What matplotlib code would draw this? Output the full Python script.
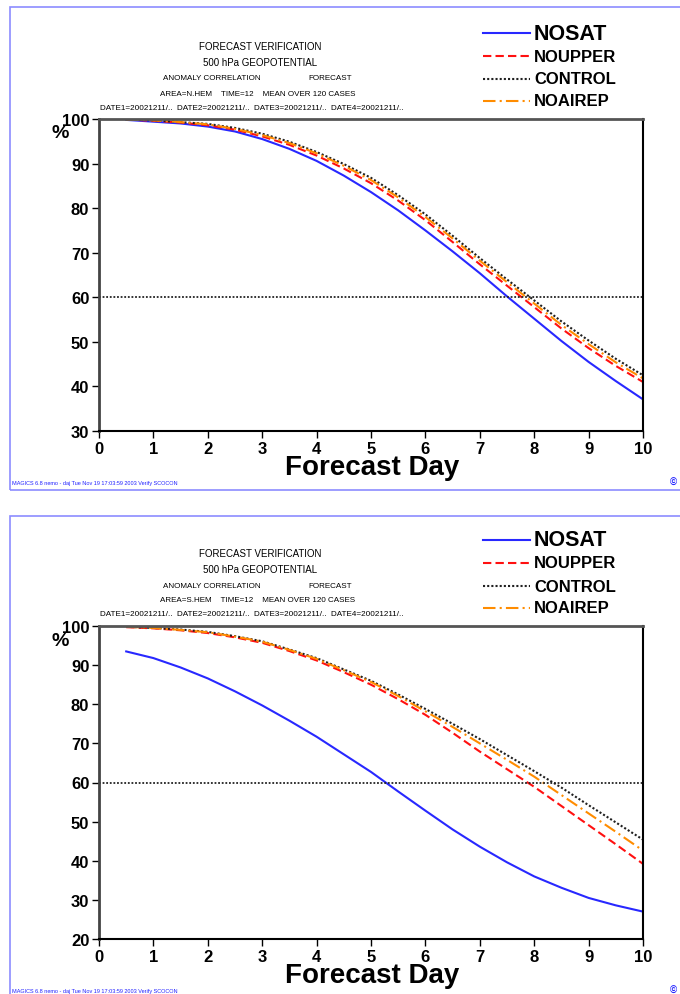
import matplotlib
matplotlib.use("Agg")
import matplotlib.pyplot as plt
from matplotlib.lines import Line2D
from matplotlib.patches import Rectangle

plt.rcParams['font.family'] = ['Liberation Sans', 'DejaVu Sans']

# forecast day (every 12 hours)
days = [0.5, 1, 1.5, 2, 2.5, 3, 3.5, 4, 4.5, 5, 5.5, 6, 6.5, 7, 7.5, 8, 8.5, 9, 9.5, 10]

# northern hemisphere anomaly correlation (%)
nosat_n = [99.8, 99.4, 99.0, 98.3, 97.2, 95.5, 93.3, 90.6, 87.3, 83.6,
           79.5, 75.0, 70.3, 65.4, 60.2, 55.2, 50.2, 45.5, 41.2, 37.1]
noupper_n = [99.9, 99.6, 99.2, 98.6, 97.6, 96.1, 94.2, 91.8, 88.9, 85.6,
             81.7, 77.3, 72.4, 67.4, 62.6, 57.8, 53.0, 48.6, 44.6, 41.0]
control_n = [99.9, 99.7, 99.3, 98.9, 98.0, 96.7, 94.9, 92.6, 89.9, 86.8,
             82.9, 78.6, 73.8, 68.8, 64.0, 59.3, 54.6, 50.3, 46.2, 42.5]
noairep_n = [99.9, 99.7, 99.3, 98.8, 97.8, 96.4, 94.6, 92.3, 89.5, 86.3,
             82.4, 78.0, 73.2, 68.2, 63.4, 58.6, 53.8, 49.5, 45.4, 41.8]

# southern hemisphere anomaly correlation (%)
nosat_s = [93.5, 91.8, 89.4, 86.6, 83.3, 79.7, 75.8, 71.7, 67.2, 62.7,
           57.7, 52.8, 48.0, 43.6, 39.6, 36.0, 33.1, 30.5, 28.6, 27.0]
noupper_s = [99.7, 99.4, 98.9, 98.2, 97.1, 95.7, 93.6, 91.2, 88.2, 85.0,
             81.3, 77.3, 72.7, 67.9, 63.4, 58.9, 54.0, 49.1, 44.2, 39.2]
control_s = [99.8, 99.5, 99.1, 98.5, 97.4, 96.1, 94.0, 91.8, 88.9, 86.0,
             82.5, 78.8, 75.0, 71.1, 67.0, 62.9, 58.7, 54.2, 49.8, 45.4]
noairep_s = [99.8, 99.5, 99.0, 98.4, 97.3, 96.0, 93.9, 91.6, 88.7, 85.7,
             82.1, 78.2, 74.2, 70.0, 65.8, 61.5, 56.8, 52.1, 47.4, 42.6]

names = ["NOSAT", "NOUPPER", "CONTROL", "NOAIREP"]
colors = ["#2828ff", "#ff1010", "#202020", "#ff8c00"]
styles = ["-", (0, (4, 2)), (0, (1, 1)), (0, (6, 2, 1, 2))]
widths = [1.5, 1.5, 1.5, 1.5]
areas = ["N.HEM", "S.HEM"]
ylims = [(30, 100), (20, 100)]
panels = [[nosat_n, noupper_n, control_n, noairep_n],
          [nosat_s, noupper_s, control_s, noairep_s]]

W, H = 680, 995
fig = plt.figure(figsize=(W / 100, H / 100), dpi=100)


def fx(x):
    return x / W


def fy(y):
    return 1 - y / H


offsets = [0, 507]
for p in range(2):
    off = offsets[p]
    # outer frame
    fig.patches.append(Rectangle((fx(10), fy(off + 491 if p == 0 else 1010)),
                                 fx(700 - 10), (491 - 8) / H if p == 0 else (1010 - 517) / H,
                                 transform=fig.transFigure, fill=False,
                                 edgecolor="#8c8cff", linewidth=1.2))
    top = 120 + off
    bot = 432 + off if p == 0 else 940
    ax = fig.add_axes([fx(99), fy(bot), fx(643) - fx(99), (bot - top) / H])
    for i in range(4):
        ax.plot(days, panels[p][i], color=colors[i], linestyle=styles[i],
                linewidth=widths[i])
    ax.axhline(60, color="#222222", linestyle=(0, (1, 1)), linewidth=1.3)
    lo, hi = ylims[p]
    ax.set_xlim(0, 10)
    ax.set_ylim(lo, hi)
    ax.set_xticks(range(0, 11))
    ax.set_yticks(range(lo, hi + 1, 10))
    ax.tick_params(direction="out", length=5, width=1, labelsize=12, pad=2)
    for lab in ax.get_xticklabels() + ax.get_yticklabels():
        lab.set_fontweight("bold")
    ax.spines["top"].set_color("#555555")
    ax.spines["top"].set_linewidth(2)
    ax.spines["left"].set_color("#444444")
    ax.spines["left"].set_linewidth(2)
    ax.spines["bottom"].set_linewidth(1.5)
    ax.spines["right"].set_linewidth(1.5)

    # titles
    fig.text(fx(260), fy(off + 47), "FORECAST VERIFICATION", fontsize=7,
             ha="center", va="center")
    fig.text(fx(260), fy(off + 63), "500 hPa GEOPOTENTIAL", fontsize=7,
             ha="center", va="center")
    fig.text(fx(212), fy(off + 79), "ANOMALY CORRELATION", fontsize=5.8,
             ha="center", va="center")
    fig.text(fx(330), fy(off + 79), "FORECAST", fontsize=5.8,
             ha="center", va="center")
    fig.text(fx(258), fy(off + 94),
             "AREA=%s    TIME=12    MEAN OVER 120 CASES" % areas[p],
             fontsize=5.8, ha="center", va="center")
    fig.text(fx(252), fy(off + 108),
             "DATE1=20021211/..  DATE2=20021211/..  DATE3=20021211/..  DATE4=20021211/..",
             fontsize=5.9, ha="center", va="center")

    # legend
    leg_y = [34, 57, 80, 102]
    leg_fs = [15.5, 12, 12, 12]
    for i in range(4):
        y = off + leg_y[i]
        fig.add_artist(Line2D([fx(483), fx(530)], [fy(y), fy(y)],
                              color=colors[i], linestyle=styles[i],
                              linewidth=widths[i]))
        fig.text(fx(534), fy(y), names[i], fontsize=leg_fs[i],
                 fontweight="bold", ha="left", va="center")

    fig.text(fx(60), fy(off + 134), "%", fontsize=14, fontweight="bold",
             ha="center", va="center")
    fig.text(fx(372), fy(bot + 36), "Forecast Day", fontsize=20,
             fontweight="bold", ha="center", va="center")
    fig.text(fx(12), fy(bot + 52),
             "MAGICS 6.8 nemo - daj Tue Nov 19 17:03:59 2003 Verify SCOCON",
             fontsize=4, color="#2020ff", ha="left", va="center")
    fig.text(fx(670), fy(bot + 51), "©", fontsize=7, fontweight="bold",
             color="#2020ff", ha="left", va="center")

fig.savefig("out.png", dpi=100)
